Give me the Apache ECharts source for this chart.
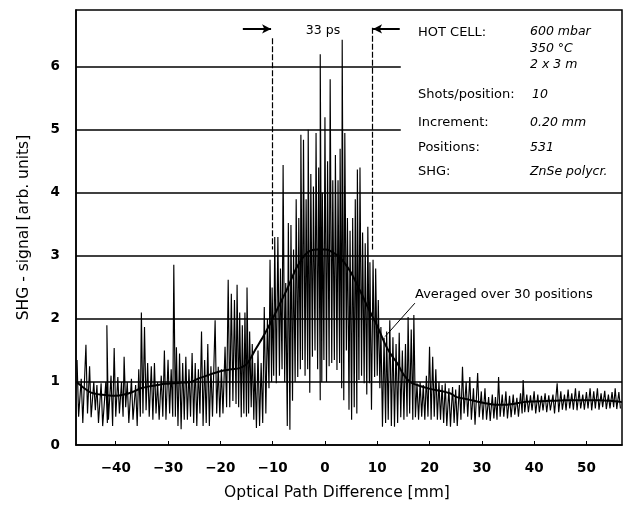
<!DOCTYPE html>
<html>
<head>
<meta charset="utf-8">
<script src="https://cdn.jsdelivr.net/npm/echarts@6/dist/echarts.min.js"></script>
<style>
  html, body { margin: 0; padding: 0; background: #fff; }
  #chart { width: 624px; height: 511px; }
</style>
</head>
<body>
<div id="chart"></div>
<script>
var rawX = [-47.4,-46.6,-45.7,-45.0,-44.2,-43.6,-42.8,-41.9,-41.7,-40.9,-40.3,-39.6,-38.9,-38.4,-37.8,-37.0,-36.2,-35.6,-35.1,-34.5,
  -33.9,-33.2,-32.6,-32.0,-31.3,-30.7,-30.0,-29.4,-28.9,-28.4,-27.8,-27.2,-26.6,-26.0,-25.4,-24.8,-24.2,-23.6,-23.0,-22.4,
  -21.8,-21.0,-20.4,-19.8,-19.1,-18.5,-17.9,-17.3,-16.8,-16.3,-15.8,-15.3,-14.9,-14.4,-13.9,-13.4,-12.8,-12.2,-11.6,-11.0,
  -10.5,-10.1,-9.6,-9.0,-8.5,-8.0,-7.5,-7.0,-6.5,-6.0,-5.5,-5.0,-4.6,-4.1,-3.6,-3.2,-2.7,-2.2,-1.7,-1.2,
  -0.9,-0.5,0.0,0.5,1.0,1.5,2.0,2.5,2.9,3.3,3.8,4.3,4.8,5.3,5.8,6.2,6.7,7.2,7.7,8.2,
  8.6,9.2,9.7,10.2,10.7,11.3,11.8,12.4,13.0,13.6,14.2,14.8,15.4,15.9,16.5,17.0,17.6,18.2,18.8,19.4,
  20.0,20.6,21.2,21.8,22.4,23.0,23.7,24.4,25.0,25.7,26.3,27.0,27.7,28.4,29.2,29.9,30.6,31.3,32.0,32.6,
  33.2,33.9,34.6,35.3,36.0,36.7,37.4,37.9,38.6,39.3,40.0,40.7,41.4,42.1,42.8,43.6,44.4,45.1,45.8,46.5,
  47.2,47.9,48.6,49.3,50.0,50.7,51.4,52.1,52.8,53.5,54.2,54.9,55.5,56.2];
var rawHi = [1.35,1.05,1.59,1.25,1.0,0.95,0.98,1.0,1.9,1.1,1.54,1.08,1.0,1.4,1.0,1.05,0.95,1.2,2.1,1.87,
  1.3,1.25,1.3,1.0,1.1,1.5,1.35,1.2,2.86,1.55,1.45,1.3,1.4,1.2,1.46,1.3,1.2,1.8,1.35,1.6,
  1.25,1.98,1.24,1.2,1.56,2.62,2.4,2.3,2.54,2.1,1.9,2.1,2.5,1.8,1.6,1.3,1.5,1.3,2.19,2.0,
  2.94,2.5,3.3,3.3,2.8,4.44,2.57,3.52,3.49,3.1,3.9,3.6,4.92,4.84,3.9,5.0,4.3,4.1,4.95,4.4,
  6.2,4.0,5.2,4.5,5.8,4.2,4.6,4.2,4.7,6.43,4.95,3.6,3.4,3.6,3.9,4.37,4.4,3.37,3.2,3.46,
  2.9,2.94,2.8,2.3,1.87,1.7,1.8,1.98,1.71,1.6,1.78,1.5,1.6,2.03,1.83,2.06,0.98,1.0,0.95,1.1,
  1.56,1.4,1.2,1.0,0.95,0.98,0.9,0.92,0.88,0.95,1.24,1.0,1.08,0.9,1.14,0.85,0.9,0.76,0.8,0.76,
  1.08,0.8,0.85,0.78,0.8,0.75,0.82,1.03,0.8,0.79,0.85,0.8,0.78,0.82,0.79,0.8,0.98,0.85,0.8,0.88,
  0.82,0.9,0.86,0.8,0.84,0.9,0.85,0.9,0.82,0.86,0.8,0.84,0.9,0.84];
var rawLo = [0.45,0.35,0.5,0.44,0.55,0.35,0.3,0.35,0.4,0.3,0.45,0.5,0.45,0.6,0.35,0.4,0.3,0.45,0.5,0.55,
  0.45,0.4,0.5,0.4,0.45,0.4,0.5,0.45,0.45,0.3,0.25,0.4,0.4,0.45,0.35,0.3,0.5,0.3,0.35,0.3,
  0.45,0.5,0.44,0.5,0.6,0.6,0.7,0.65,0.6,0.44,0.5,0.45,0.5,0.6,0.4,0.27,0.3,0.35,0.5,0.9,
  1.0,1.1,0.98,1.1,1.2,1.0,0.3,0.24,0.7,1.0,1.08,1.2,1.35,1.1,1.2,0.83,1.4,1.5,1.2,0.71,
  1.0,1.35,1.0,1.25,1.3,1.35,1.19,1.3,0.9,0.71,1.5,0.56,0.4,0.6,0.5,1.03,1.1,0.98,0.8,0.98,
  0.56,1.08,1.1,0.9,0.29,0.35,0.4,0.3,0.29,0.35,0.44,0.4,0.45,0.5,0.4,0.44,0.4,0.45,0.4,0.45,
  0.4,0.45,0.4,0.4,0.35,0.3,0.29,0.35,0.3,0.4,0.5,0.45,0.4,0.32,0.44,0.4,0.4,0.38,0.42,0.4,
  0.45,0.45,0.42,0.44,0.48,0.45,0.5,0.52,0.52,0.55,0.5,0.52,0.55,0.52,0.55,0.5,0.52,0.56,0.55,0.58,
  0.56,0.55,0.58,0.56,0.58,0.55,0.58,0.56,0.6,0.57,0.58,0.6,0.57,0.58];

// running average over 30 positions
var avgX = [-47.5,-46,-44.7,-43,-41.7,-40,-38.4,-36.8,-35.2,-33.6,-32.1,-30.5,-28.9,-27.3,-25.6,-24,-22.6,-20,-18,-16.3,
  -14.8,-13.4,-11.8,-10,-9.2,-7.3,-5.3,-3.4,-1.5,0,1,2.9,4.8,6.7,8.4,10.1,11.5,12.5,13.8,15,
  16.3,18,20.1,22,23.9,25.2,27.5,30.2,32.5,34.8,37.9,39.8,43,46.3,49.5,52.6,54.5,56.8];
var avgY = [1.0,0.9,0.83,0.8,0.79,0.78,0.8,0.84,0.9,0.93,0.95,0.97,0.98,0.99,1.0,1.06,1.1,1.17,1.2,1.22,
  1.3,1.5,1.72,2.0,2.14,2.46,2.83,3.05,3.1,3.1,3.08,2.97,2.76,2.45,2.15,1.87,1.6,1.45,1.3,1.12,
  1.0,0.94,0.89,0.86,0.82,0.76,0.72,0.67,0.64,0.64,0.68,0.69,0.7,0.71,0.71,0.71,0.7,0.68];

var xTicks = [-40, -30, -20, -10, 0, 10, 20, 30, 40, 50];
var yTicks = [0, 1, 2, 3, 4, 5, 6];
var fullGrid = [1, 2, 3, 4];
var shortGrid = [5, 6];

var X_MIN = -47.6, X_MAX = 56.8, Y_MAX = 6.9;
var SHORT_END = 14.5;          // where the 5 and 6 gridlines stop (legend block)
var marks33 = [-10.1, 9.0];    // the "33 ps" bracket

// each reading becomes an up stroke then a down stroke, like the dense scan trace
var rawLine = [];
rawX.forEach(function (x, i) {
  rawLine.push([x, rawHi[i]], [x + 0.3, rawLo[i]]);
});
var avgLine = avgX.map(function (x, i) { return [x, avgY[i]]; });

var gridLines = [];
fullGrid.forEach(function (v) { gridLines.push([{ coord: [X_MIN, v] }, { coord: [X_MAX, v] }]); });
shortGrid.forEach(function (v) { gridLines.push([{ coord: [X_MIN, v] }, { coord: [SHORT_END, v] }]); });

var FONT = '"DejaVu Sans", Arial, sans-serif';
var lbl = '13px ' + FONT;
var val = 'italic 12.5px ' + FONT;
function txt(x, y, s, font, align) {
  return { type: 'text', x: x, y: y, z: 50,
    style: { text: s, font: font, fill: '#000', textAlign: align || 'left', align: align || 'left',
      textVerticalAlign: 'middle', verticalAlign: 'middle' } };
}
function minus(v) { return String(v).replace('-', '\u2212'); }

var chart = echarts.init(document.getElementById('chart'), null, { renderer: 'canvas' });
chart.setOption({
  animation: false,
  backgroundColor: '#fff',
  grid: { left: 76, right: 2, top: 10, bottom: 66, show: true, borderColor: '#000', borderWidth: 1.5 },
  xAxis: {
    type: 'value', min: X_MIN, max: X_MAX,
    name: 'Optical Path Difference [mm]', nameLocation: 'middle', nameGap: 40,
    nameTextStyle: { fontSize: 15.5, color: '#000', fontFamily: 'DejaVu Sans', padding: [0, 24, 0, 0] },
    axisLine: { onZero: false, lineStyle: { color: '#000', width: 1.5 } },
    axisTick: { inside: true, length: 4, customValues: xTicks, lineStyle: { color: '#000' } },
    axisLabel: { customValues: xTicks, margin: 16, fontSize: 13.5, fontWeight: 'bold', color: '#000',
      fontFamily: 'DejaVu Sans', formatter: minus },
    splitLine: { show: false }
  },
  yAxis: {
    type: 'value', min: 0, max: Y_MAX,
    name: 'SHG - signal [arb. units]', nameLocation: 'middle', nameGap: 44,
    nameTextStyle: { fontSize: 15.5, color: '#000', fontFamily: 'DejaVu Sans' },
    axisLine: { show: true, onZero: false, lineStyle: { color: '#000', width: 1.5 } },
    axisTick: { show: false },
    axisLabel: { customValues: yTicks, margin: 16, fontSize: 13.5, fontWeight: 'bold', color: '#000', fontFamily: 'DejaVu Sans' },
    splitLine: { show: false }
  },
  series: [
    {
      name: 'raw', type: 'line', data: rawLine, showSymbol: false, silent: true,
      lineStyle: { color: '#000', width: 1.15 },
      markLine: {
        silent: true, symbol: 'none', label: { show: false },
        lineStyle: { color: '#000', width: 1.5, type: 'solid' },
        data: gridLines
      }
    },
    {
      name: 'avg', type: 'line', data: avgLine, showSymbol: false, smooth: 0.3, silent: true,
      lineStyle: { color: '#000', width: 2 },
      markLine: {
        silent: true, label: { show: false }, symbol: 'none',
        lineStyle: { color: '#000', width: 1.2, type: [6, 2] },
        data: [
          [{ coord: [marks33[0], 6.45] }, { coord: [marks33[0], 3.1] }],
          [{ coord: [marks33[1], 6.62] }, { coord: [marks33[1], 3.1] }],
          [{ coord: [17.2, 2.25], lineStyle: { type: 'solid', width: 1 } }, { coord: [11.5, 1.72] }],
          [{ coord: [-15.7, 6.6], symbol: 'none', lineStyle: { type: 'solid', width: 2 } },
           { coord: [marks33[0] - 0.2, 6.6], symbol: 'arrow', symbolSize: [7, 9] }],
          [{ coord: [14.3, 6.6], symbol: 'none', lineStyle: { type: 'solid', width: 2 } },
           { coord: [marks33[1] + 0.2, 6.6], symbol: 'arrow', symbolSize: [7, 9] }]
        ]
      }
    }
  ],
  graphic: [
    txt(323, 31, '33 ps', '12.5px ' + FONT, 'center'),
    txt(418, 33, 'HOT CELL:', lbl),
    txt(530, 32, '600 mbar', val),
    txt(530, 49, '350 °C', val),
    txt(530, 65, '2 x 3 m', val),
    txt(418, 95, 'Shots/position:', lbl),
    txt(532, 95, '10', val),
    txt(418, 123, 'Increment:', lbl),
    txt(530, 123, '0.20 mm', val),
    txt(418, 148, 'Positions:', lbl),
    txt(530, 148, '531', val),
    txt(418, 172, 'SHG:', lbl),
    txt(530, 172, 'ZnSe polycr.', val),
    txt(415, 295, 'Averaged over 30 positions', lbl)
  ]
});
</script>
</body>
</html>
